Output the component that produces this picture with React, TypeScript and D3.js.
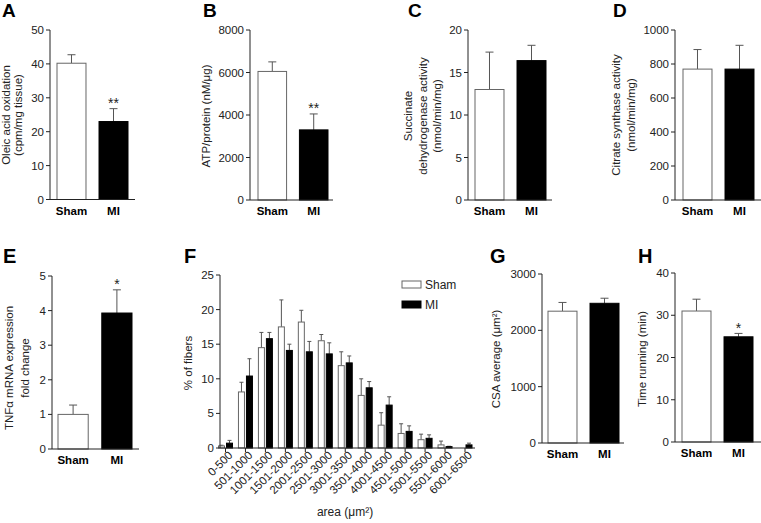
import React from "react";
import * as d3 from "d3";

const FONT = "'Liberation Sans', Arial, Helvetica, sans-serif";

const groups = ["Sham", "MI"];

const oleicMean = [40.2, 23.0];
const oleicErr = [2.5, 3.8];
const oleicStars = ["", "**"];
const oleicTicks = [0, 10, 20, 30, 40, 50];

const atpMean = [6050, 3300];
const atpErr = [450, 750];
const atpStars = ["", "**"];
const atpTicks = [0, 2000, 4000, 6000, 8000];

const sdhMean = [13.0, 16.4];
const sdhErr = [4.4, 1.8];
const sdhTicks = [0, 5, 10, 15, 20];

const csMean = [770, 770];
const csErr = [115, 140];
const csTicks = [0, 200, 400, 600, 800, 1000];

const tnfMean = [1.0, 3.93];
const tnfErr = [0.27, 0.67];
const tnfStars = ["", "*"];
const tnfTicks = [0, 1, 2, 3, 4, 5];

const csaMean = [2340, 2480];
const csaErr = [155, 90];
const csaTicks = [0, 1000, 2000, 3000];

const timeMean = [31.0, 24.9];
const timeErr = [2.8, 0.8];
const timeStars = ["", "*"];
const timeTicks = [0, 10, 20, 30, 40];

const fiberCats = [
  "0-500", "501-1000", "1001-1500", "1501-2000", "2001-2500", "2501-3000",
  "3001-3500", "3501-4000", "4001-4500", "4501-5000", "5001-5500", "5501-6000", "6001-6500",
];
const shamFib = [0.3, 8.1, 14.5, 17.5, 18.2, 15.5, 11.9, 7.6, 3.3, 2.1, 1.2, 0.45, 0];
const shamFibErr = [0.1, 1.4, 2.2, 3.9, 1.7, 0.9, 2.0, 2.4, 1.8, 1.4, 0.8, 0.55, 0];
const miFib = [0.7, 10.4, 15.8, 14.1, 13.9, 13.6, 12.3, 8.7, 6.2, 2.4, 1.4, 0.2, 0.45];
const miFibErr = [0.4, 2.5, 0.9, 0.9, 1.5, 1.6, 1.0, 0.9, 1.2, 0.8, 0.5, 0.05, 0.25];
const fibTicks = [0, 5, 10, 15, 20, 25];

const AXIS = "#222";
const ERR = "#555";
const OUTLINE = "#666";

type PanelProps = {
  letter: string;
  letterX: number;
  letterY: number;
  letterSize: number;
  axisX0: number;
  axisX1: number;
  barL: number;
  barR: number;
  yB: number;
  yT: number;
  max: number;
  ticks: number[];
  means: number[];
  errs: number[];
  stars?: string[];
  labels: string[];
  labelXs: number[];
  labelY: number;
};

function YAxis({ x, y, ticks }: { x: number; y: d3.ScaleLinear<number, number>; ticks: number[] }) {
  const r = y.range();
  return (
    <g>
      <line x1={x} x2={x} y1={r[0]} y2={r[1]} stroke={AXIS} strokeWidth={1} />
      {ticks.map((t) => (
        <g key={t}>
          <line x1={x - 4} x2={x} y1={y(t)} y2={y(t)} stroke={AXIS} strokeWidth={1} />
          <text x={x - 6} y={y(t)} dy="0.35em" textAnchor="end" fontSize={11.5} fill="#222">
            {t}
          </text>
        </g>
      ))}
    </g>
  );
}

function BarPanel(p: PanelProps) {
  const y = d3.scaleLinear().domain([0, p.max]).range([p.yB, p.yT]);
  const x = d3.scaleBand<string>().domain(groups).range([p.barL, p.barR]).paddingInner(0.31).paddingOuter(0);
  const bw = x.bandwidth();
  return (
    <g>
      <text x={p.letterX} y={p.letterY} fontSize={p.letterSize} fontWeight="bold" fill="#000">
        {p.letter}
      </text>
      {groups.map((g, i) => {
        const x0 = x(g) as number;
        const cx = x0 + bw / 2;
        const top = y(p.means[i]);
        const et = y(p.means[i] + p.errs[i]);
        return (
          <g key={g}>
            <line x1={cx} x2={cx} y1={top} y2={et} stroke={ERR} strokeWidth={1} />
            <line x1={cx - 4} x2={cx + 4} y1={et} y2={et} stroke={ERR} strokeWidth={1} />
            <rect
              x={x0}
              y={top}
              width={bw}
              height={p.yB - top}
              fill={i === 0 ? "#fff" : "#000"}
              stroke={i === 0 ? OUTLINE : "#000"}
              strokeWidth={1}
            />
            {p.stars && p.stars[i] ? (
              <text x={cx} y={et - 0.5} textAnchor="middle" fontSize={14} fill="#222">
                {p.stars[i]}
              </text>
            ) : null}
            <text x={cx} y={p.yB + 15} textAnchor="middle" fontSize={11.5} fontWeight="bold" fill="#000">
              {g}
            </text>
          </g>
        );
      })}
      <YAxis x={p.axisX0} y={y} ticks={p.ticks} />
      <line x1={p.axisX0} x2={p.axisX1} y1={p.yB} y2={p.yB} stroke={AXIS} strokeWidth={1} />
      {p.labels.map((l, i) => (
        <text
          key={i}
          transform={`translate(${p.labelXs[i]},${p.labelY}) rotate(-90)`}
          textAnchor="middle"
          fontSize={11.5}
          fill="#222"
        >
          {l}
        </text>
      ))}
    </g>
  );
}

function FiberPanel() {
  const yB = 448;
  const yT = 275;
  const axisX0 = 220;
  const axisX1 = 475;
  const y = d3.scaleLinear().domain([0, 25]).range([yB, yT]);
  const x = d3.scalePoint<string>().domain(fiberCats).range([225.5, 465]);
  const bw = 6;
  return (
    <g>
      <text x={184} y={263} fontSize={20} fontWeight="bold" fill="#000">F</text>
      {fiberCats.map((c, i) => {
        const cx = x(c) as number;
        const bars = [
          { v: shamFib[i], e: shamFibErr[i], x0: cx - 7, fill: "#fff", stroke: OUTLINE },
          { v: miFib[i], e: miFibErr[i], x0: cx + 1, fill: "#000", stroke: "#000" },
        ];
        return (
          <g key={c}>
            {bars.map((b, j) =>
              b.v > 0 ? (
                <g key={j}>
                  {b.e > 0 ? (
                    <g>
                      <line x1={b.x0 + bw / 2} x2={b.x0 + bw / 2} y1={y(b.v)} y2={y(b.v + b.e)} stroke={ERR} />
                      <line x1={b.x0 + bw / 2 - 2} x2={b.x0 + bw / 2 + 2} y1={y(b.v + b.e)} y2={y(b.v + b.e)} stroke={ERR} />
                    </g>
                  ) : null}
                  <rect x={b.x0} y={y(b.v)} width={bw} height={yB - y(b.v)} fill={b.fill} stroke={b.stroke} strokeWidth={1} />
                </g>
              ) : null
            )}
            <line x1={cx} x2={cx} y1={yB} y2={yB + 4} stroke={AXIS} />
            <text
              transform={`translate(${cx + 5},${yB + 5}) rotate(-45)`}
              textAnchor="end"
              dy="0.35em"
              fontSize={11.5}
              fill="#222"
            >
              {c}
            </text>
          </g>
        );
      })}
      <YAxis x={axisX0} y={y} ticks={fibTicks} />
      <line x1={axisX0} x2={axisX1} y1={yB} y2={yB} stroke={AXIS} />
      <text transform={`translate(191.5,363) rotate(-90)`} textAnchor="middle" fontSize={11.5} fill="#222">
        % of fibers
      </text>
      <text x={345} y={516} textAnchor="middle" fontSize={12} fill="#222">
        area (μm²)
      </text>
      <rect x={402} y={281} width={19} height={7} fill="#fff" stroke={OUTLINE} />
      <text x={425} y={289} fontSize={12} fill="#222">Sham</text>
      <rect x={402} y={301} width={19} height={7} fill="#000" stroke="#000" />
      <text x={425} y={309} fontSize={12} fill="#222">MI</text>
    </g>
  );
}

export default function App() {
  return (
    <svg
      width={761}
      height={523}
      viewBox="0 0 761 523"
      style={{ position: "absolute", left: 0, top: 0, background: "#fff", fontFamily: FONT }}
    >
      <rect x={0} y={0} width={761} height={523} fill="#fff" />
      <BarPanel
        letter="A" letterX={2} letterY={17} letterSize={19}
        axisX0={50} axisX1={135} barL={57} barR={128}
        yB={199.5} yT={30} max={50} ticks={oleicTicks}
        means={oleicMean} errs={oleicErr} stars={oleicStars}
        labels={["Oleic acid oxidation", "(cpm/mg tissue)"]} labelXs={[9.5, 21.5]} labelY={115}
      />
      <BarPanel
        letter="B" letterX={203} letterY={17} letterSize={19}
        axisX0={250} axisX1={333} barL={258} barR={328}
        yB={200} yT={30} max={8000} ticks={atpTicks}
        means={atpMean} errs={atpErr} stars={atpStars}
        labels={["ATP/protein (nM/μg)"]} labelXs={[209.5]} labelY={116}
      />
      <BarPanel
        letter="C" letterX={408} letterY={17} letterSize={19}
        axisX0={468} axisX1={552} barL={475} barR={546}
        yB={200} yT={30} max={20} ticks={sdhTicks}
        means={sdhMean} errs={sdhErr}
        labels={["Succinate", "dehydrogenase activity", "(nmol/min/mg)"]} labelXs={[412, 426.5, 440.5]} labelY={116}
      />
      <BarPanel
        letter="D" letterX={613} letterY={17} letterSize={19}
        axisX0={675} axisX1={761} barL={683} barR={754}
        yB={200} yT={30} max={1000} ticks={csTicks}
        means={csMean} errs={csErr}
        labels={["Citrate synthase activity", "(nmol/min/mg)"]} labelXs={[620, 634.5]} labelY={115}
      />
      <BarPanel
        letter="E" letterX={3} letterY={263} letterSize={20}
        axisX0={52} axisX1={139} barL={58} barR={132}
        yB={449} yT={276} max={5} ticks={tnfTicks}
        means={tnfMean} errs={tnfErr} stars={tnfStars}
        labels={["TNFα mRNA expression", "fold change"]} labelXs={[13, 29]} labelY={368}
      />
      <FiberPanel />
      <BarPanel
        letter="G" letterX={490} letterY={263} letterSize={20}
        axisX0={542} axisX1={624} barL={548} barR={619}
        yB={443} yT={274} max={3000} ticks={csaTicks}
        means={csaMean} errs={csaErr}
        labels={["CSA average (μm²)"]} labelXs={[499.5]} labelY={359}
      />
      <BarPanel
        letter="H" letterX={638} letterY={263} letterSize={20}
        axisX0={675} axisX1={761} barL={682} barR={753}
        yB={442} yT={273} max={40} ticks={timeTicks}
        means={timeMean} errs={timeErr} stars={timeStars}
        labels={["Time running (min)"]} labelXs={[645.5]} labelY={359}
      />
    </svg>
  );
}
